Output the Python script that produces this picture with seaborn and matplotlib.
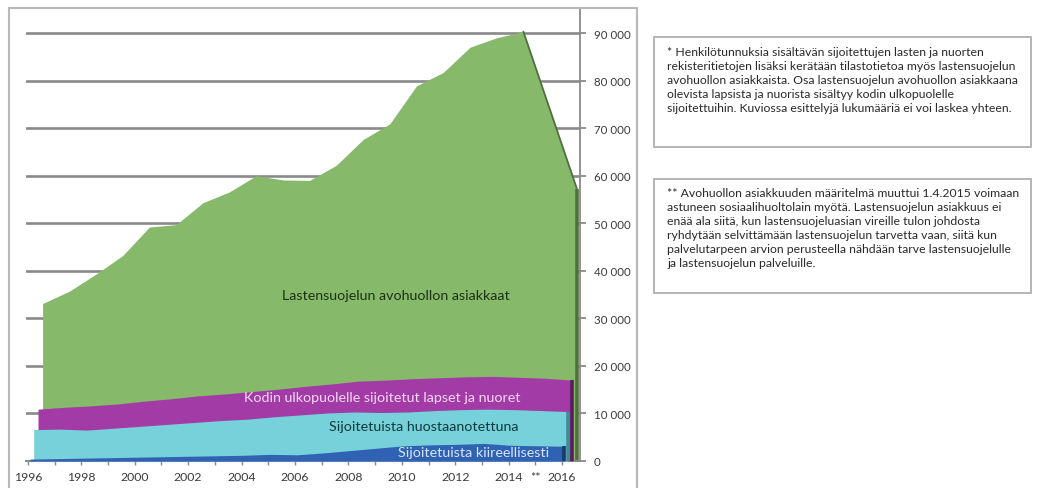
import matplotlib
matplotlib.use("Agg")
import matplotlib.pyplot as plt
import seaborn as sns
import pandas as pd
from matplotlib.patches import Rectangle
from matplotlib.ticker import FuncFormatter

# ---------------- data ----------------
years = list(range(1996, 2017))
avohuolto = [33100, 35700, 39300, 43200, 49200, 49700, 54300, 56600, 60000, 59100,
             59000, 62200, 67600, 70900, 78900, 81700, 87000, 89000, 90300, 73800, 57300]
sijoitetut = [10900, 11300, 11600, 12000, 12600, 13100, 13700, 14100, 14600, 15100,
              15700, 16200, 16800, 17000, 17300, 17500, 17700, 17800, 17600, 17400, 17000]
huostaan = [6600, 6700, 6500, 6900, 7300, 7700, 8100, 8500, 8800, 9300,
            9700, 10100, 10300, 10200, 10300, 10600, 10800, 10900, 10800, 10600, 10400]
kiireell = [400, 500, 600, 700, 800, 900, 1000, 1100, 1200, 1400,
            1300, 1700, 2200, 2700, 3200, 3400, 3500, 3700, 3300, 3200, 3100]
series_names = ["Lastensuojelun avohuollon asiakkaat",
                "Kodin ulkopuolelle sijoitetut lapset ja nuoret",
                "Sijoitetuista huostaanotettuna",
                "Sijoitetuista kiireellisesti"]
y_ticks = list(range(0, 90001, 10000))
x_labels = [str(y) if y % 2 == 0 else ("**" if y == 2015 else "") for y in years]

note1 = ("* Henkilötunnuksia sisältävän sijoitettujen lasten ja nuorten\n"
         "rekisteritietojen lisäksi kerätään tilastotietoa myös lastensuojelun\n"
         "avohuollon asiakkaista. Osa lastensuojelun avohuollon asiakkaana\n"
         "olevista lapsista ja nuorista sisältyy kodin ulkopuolelle\n"
         "sijoitettuihin. Kuviossa esittelyjä lukumääriä ei voi laskea yhteen.")
note2 = ("** Avohuollon asiakkuuden määritelmä muuttui 1.4.2015 voimaan\n"
         "astuneen sosiaalihuoltolain myötä. Lastensuojelun asiakkuus ei\n"
         "enää ala siitä, kun lastensuojeluasian vireille tulon johdosta\n"
         "ryhdytään selvittämään lastensuojelun tarvetta vaan, siitä kun\n"
         "palvelutarpeen arvion perusteella nähdään tarve lastensuojelulle\n"
         "ja lastensuojelun palveluille.")

# ---------------- style ----------------
sns.set_theme(style="white")
plt.rcParams['font.family'] = ['Lato', 'DejaVu Sans']

W, H = 1040, 489
fig = plt.figure(figsize=(W / 100, H / 100), dpi=100)
fig.patch.set_facecolor("white")


def fx(px):
    return px / W


def fy(py):
    return 1 - py / H


ax = fig.add_axes([fx(26), fy(462), (580 - 26) / W, (462 - 9) / H])
ax.set_facecolor("white")

grid_col = "#8a8a8a"
fills = [
    (avohuolto, 0.55, "#87b96a", "#51703f"),
    (sijoitetut, 0.38, "#a23ba6", "#5a1d5d"),
    (huostaan, 0.22, "#76d1da", "#3f8f96"),
    (kiireell, 0.08, "#2f62b2", "#1b3a6c"),
]
for i, (vals, off, col, dark) in enumerate(fills):
    xs = [y + off for y in years]
    df = pd.DataFrame({"x": xs, "y": vals})
    ax.fill_between(df["x"], 0, df["y"], color=col, lw=0, zorder=2 + i)
    # darker side face at the end of each series
    ax.plot([xs[-1], xs[-1]], [0, vals[-1]], color=dark, lw=2.6, zorder=2 + i,
            solid_capstyle="butt")
    if i == 0:
        sns.lineplot(x=df["x"].iloc[-3:], y=df["y"].iloc[-3:], ax=ax, color=dark,
                     lw=1.3, zorder=2.5, legend=False)

ax.set_xlim(1995.93, 2016.67)
ax.set_ylim(0, 90000 * (462 - 9) / (462 - 34))

ax.set_yticks(y_ticks)
ax.yaxis.set_major_formatter(FuncFormatter(lambda v, p: f"{int(v):,}".replace(",", " ")))
ax.yaxis.tick_right()
ax.yaxis.grid(True, color=grid_col, lw=1.9)
ax.xaxis.grid(False)
ax.set_axisbelow(True)
ax.tick_params(axis="y", direction="out", length=4, width=1.3, color=grid_col,
               pad=6, labelsize=8.3, labelcolor="#3a3a3a")

ax.set_xticks(years)
ax.set_xticklabels(x_labels)
ax.tick_params(axis="x", direction="out", length=3, width=1.0, color=grid_col,
               pad=4, labelsize=8.8, labelcolor="#3a3a3a", bottom=True)

for s in ["left", "top"]:
    ax.spines[s].set_visible(False)
ax.spines["right"].set_color(grid_col)
ax.spines["right"].set_linewidth(1.3)
ax.spines["bottom"].set_color(grid_col)
ax.spines["bottom"].set_linewidth(1.5)
ax.set_xlabel("")
ax.set_ylabel("")

# series labels
fig.text(fx(396), fy(296), series_names[0], ha="center", va="center",
         fontsize=10.3, color="#1c3313")
fig.text(fx(382), fy(398), series_names[1], ha="center", va="center",
         fontsize=10.3, color="#f6d8f6")
fig.text(fx(424), fy(427), series_names[2], ha="center", va="center",
         fontsize=10.3, color="#0e3a3d")
fig.text(fx(474), fy(453), series_names[3], ha="center", va="center",
         fontsize=10.3, color="#d6e4ff")

# outer chart border
fig.add_artist(Rectangle((fx(9), fy(530)), (637 - 9) / W, (530 - 9) / H,
                         transform=fig.transFigure, fill=False, ec="#b8b8b8", lw=1.5))

# note boxes
fig.add_artist(Rectangle((fx(654), fy(148)), (1031 - 654) / W, (148 - 38) / H,
                         transform=fig.transFigure, fill=False, ec="#a8a8a8", lw=1.2))
fig.add_artist(Rectangle((fx(654), fy(294)), (1031 - 654) / W, (294 - 180) / H,
                         transform=fig.transFigure, fill=False, ec="#a8a8a8", lw=1.2))
fig.text(fx(667), fy(47), note1, ha="left", va="top", fontsize=8.8,
         linespacing=1.33, color="#2a2a2a")
fig.text(fx(667), fy(188), note2, ha="left", va="top", fontsize=8.8,
         linespacing=1.33, color="#2a2a2a")

fig.savefig("out.png", dpi=100, facecolor="white")
